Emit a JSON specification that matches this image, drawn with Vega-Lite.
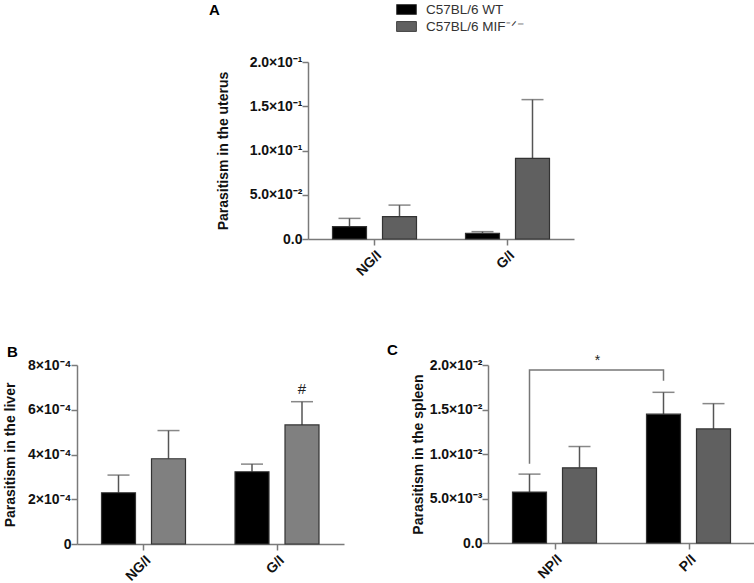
{
  "$schema": "https://vega.github.io/schema/vega-lite/v6.json",
  "padding": {"left": 3, "top": 0, "right": 2, "bottom": 2},
  "config": {
    "view": {"stroke": null},
    "font": "Liberation Sans",
    "axis": {"domainColor": "#7a7a7a", "tickColor": "#7a7a7a", "domainWidth": 1.5, "tickWidth": 1.5, "tickSize": 6, "grid": false, "labelColor": "#111", "titleColor": "#111", "labelFont": "Liberation Sans", "titleFont": "Liberation Sans", "labelFontWeight": "bold", "labelFontSize": 14, "titleFontSize": 14, "titleFontWeight": "bold"},
    "axisY": {"labelPadding": 0, "titlePadding": 12},
    "axisX": {"labelPadding": 3},
    "legend": {"labelFontSize": 13.5, "labelColor": "#333", "labelFont": "Liberation Sans", "rowPadding": 0, "labelOffset": 10, "symbolSize": 324, "symbolType": "M-1.1,-0.55H1.1V0.55H-1.1Z", "symbolStrokeColor": "#444", "symbolStrokeWidth": 1},
    "title": {"font": "Liberation Sans", "fontSize": 15, "fontWeight": "bold", "color": "#000", "anchor": "start", "frame": "group"}
  },
  "datasets": {
    "uterus": [
      {"group": "NG/I", "strain": "C57BL/6 WT", "mean": 0.0139, "upper": 0.0233},
      {"group": "NG/I", "strain": "C57BL/6 MIF⁻ᐟ⁻", "mean": 0.0252, "upper": 0.0383},
      {"group": "G/I", "strain": "C57BL/6 WT", "mean": 0.0064, "upper": 0.0083},
      {"group": "G/I", "strain": "C57BL/6 MIF⁻ᐟ⁻", "mean": 0.091, "upper": 0.1575}
    ],
    "liver": [
      {"group": "NG/I", "strain": "C57BL/6 WT", "mean": 0.000229, "upper": 0.000308},
      {"group": "NG/I", "strain": "C57BL/6 MIF⁻ᐟ⁻", "mean": 0.000381, "upper": 0.000507},
      {"group": "G/I", "strain": "C57BL/6 WT", "mean": 0.000323, "upper": 0.000357},
      {"group": "G/I", "strain": "C57BL/6 MIF⁻ᐟ⁻", "mean": 0.000532, "upper": 0.000636}
    ],
    "liverNote": [
      {"group": "G/I", "strain": "C57BL/6 MIF⁻ᐟ⁻", "y": 0.000691, "label": "#"}
    ],
    "spleen": [
      {"group": "NP/I", "strain": "C57BL/6 WT", "mean": 0.00572, "upper": 0.00774},
      {"group": "NP/I", "strain": "C57BL/6 MIF⁻ᐟ⁻", "mean": 0.00845, "upper": 0.01084},
      {"group": "P/I", "strain": "C57BL/6 WT", "mean": 0.01447, "upper": 0.01693},
      {"group": "P/I", "strain": "C57BL/6 MIF⁻ᐟ⁻", "mean": 0.01282, "upper": 0.01566}
    ],
    "bracket": [
      {"group": "NP/I", "strain": "C57BL/6 WT", "y": 0.0089, "ord": 1},
      {"group": "NP/I", "strain": "C57BL/6 WT", "y": 0.01944, "ord": 2},
      {"group": "P/I", "strain": "C57BL/6 WT", "y": 0.01944, "ord": 3},
      {"group": "P/I", "strain": "C57BL/6 WT", "y": 0.01824, "ord": 4}
    ],
    "spleenNote": [
      {"group": "NP/I", "strain": "C57BL/6 MIF⁻ᐟ⁻", "y": 0.02045, "label": "*"}
    ]
  },
  "resolve": {"scale": {"color": "independent"}},
  "spacing": 63,
  "vconcat": [
    {
      "spacing": 0,
      "hconcat": [
        {"width": 132, "height": 10, "data": {"values": [{}]}, "mark": {"type": "point", "opacity": 0}},
        {
          "width": 266,
          "height": 177,
          "title": {"text": "A", "dx": -99, "offset": 37},
          "data": {"name": "uterus"},
          "encoding": {
            "x": {"field": "group", "type": "nominal", "sort": ["NG/I", "G/I"], "scale": {"paddingInner": 0, "paddingOuter": 0},
                  "axis": {"title": null, "labelAngle": -45}},
            "xOffset": {"field": "strain", "type": "nominal", "sort": ["C57BL/6 WT", "C57BL/6 MIF⁻ᐟ⁻"], "scale": {"paddingInner": 0.32, "paddingOuter": 0.49}}
          },
          "layer": [
            {"mark": {"type": "rule", "color": "#555", "strokeWidth": 1.5},
             "encoding": {"y": {"field": "mean", "type": "quantitative"}, "y2": {"field": "upper"}}},
            {"mark": {"type": "tick", "color": "#555", "thickness": 1.5, "size": 22},
             "encoding": {"y": {"field": "upper", "type": "quantitative"}}},
            {"mark": {"type": "bar", "stroke": "#333", "strokeWidth": 1.2},
             "encoding": {
               "y": {"field": "mean", "type": "quantitative", "scale": {"domain": [0, 0.2]},
                     "axis": {"title": "Parasitism in the uterus", "titlePadding": 19, "values": [0, 0.05, 0.1, 0.15, 0.2],
                              "labelExpr": "datum.value < 0.01 ? '0.0' : datum.value < 0.07 ? '5.0×10⁻²' : datum.value < 0.12 ? '1.0×10⁻¹' : datum.value < 0.17 ? '1.5×10⁻¹' : '2.0×10⁻¹'"}},
               "color": {"field": "strain", "type": "nominal", "sort": ["C57BL/6 WT", "C57BL/6 MIF⁻ᐟ⁻"],
                         "scale": {"domain": ["C57BL/6 WT", "C57BL/6 MIF⁻ᐟ⁻"], "range": ["#000000", "#606060"]},
                         "legend": {"orient": "none", "legendX": 320, "legendY": -62, "title": null}}
             }}
          ]
        }
      ]
    },
    {
      "spacing": 43,
      "resolve": {"scale": {"color": "independent"}},
      "hconcat": [
        {
          "width": 267,
          "height": 179,
          "title": {"text": "B", "dx": -70, "offset": 0, "dy": 2},
          "encoding": {
            "x": {"field": "group", "type": "nominal", "sort": ["NG/I", "G/I"], "scale": {"paddingInner": 0, "paddingOuter": 0},
                  "axis": {"title": null, "labelAngle": -45}},
            "xOffset": {"field": "strain", "type": "nominal", "sort": ["C57BL/6 WT", "C57BL/6 MIF⁻ᐟ⁻"], "scale": {"paddingInner": 0.196, "paddingOuter": 0.55}}
          },
          "layer": [
            {"data": {"name": "liver"}, "mark": {"type": "rule", "color": "#555", "strokeWidth": 1.5},
             "encoding": {"y": {"field": "mean", "type": "quantitative"}, "y2": {"field": "upper"}}},
            {"data": {"name": "liver"}, "mark": {"type": "tick", "color": "#555", "thickness": 1.5, "size": 22},
             "encoding": {"y": {"field": "upper", "type": "quantitative"}}},
            {"data": {"name": "liver"}, "mark": {"type": "bar", "stroke": "#333", "strokeWidth": 1.2},
             "encoding": {
               "y": {"field": "mean", "type": "quantitative", "scale": {"domain": [0, 0.0008]},
                     "axis": {"title": "Parasitism in the liver", "titlePadding": 10, "values": [0, 0.0002, 0.0004, 0.0006, 0.0008],
                              "labelExpr": "datum.value < 0.00001 ? '0' : datum.value < 0.0003 ? '2×10⁻⁴' : datum.value < 0.0005 ? '4×10⁻⁴' : datum.value < 0.0007 ? '6×10⁻⁴' : '8×10⁻⁴'"}},
               "color": {"field": "strain", "type": "nominal", "sort": ["C57BL/6 WT", "C57BL/6 MIF⁻ᐟ⁻"],
                         "scale": {"domain": ["C57BL/6 WT", "C57BL/6 MIF⁻ᐟ⁻"], "range": ["#000000", "#808080"]}, "legend": null}
             }},
            {"data": {"name": "liverNote"}, "mark": {"type": "text", "fontSize": 15, "fontWeight": "normal", "color": "#222", "baseline": "middle"},
             "encoding": {"y": {"field": "y", "type": "quantitative"}, "text": {"field": "label"}}}
          ]
        },
        {
          "width": 268,
          "height": 178,
          "title": {"text": "C", "dx": -101, "offset": 0, "dy": 4},
          "encoding": {
            "x": {"field": "group", "type": "nominal", "sort": ["NP/I", "P/I"], "scale": {"paddingInner": 0, "paddingOuter": 0},
                  "axis": {"title": null, "labelAngle": -45}},
            "xOffset": {"field": "strain", "type": "nominal", "sort": ["C57BL/6 WT", "C57BL/6 MIF⁻ᐟ⁻"], "scale": {"paddingInner": 0.196, "paddingOuter": 0.55}}
          },
          "layer": [
            {"data": {"name": "spleen"}, "mark": {"type": "rule", "color": "#555", "strokeWidth": 1.5},
             "encoding": {"y": {"field": "mean", "type": "quantitative"}, "y2": {"field": "upper"}}},
            {"data": {"name": "spleen"}, "mark": {"type": "tick", "color": "#555", "thickness": 1.5, "size": 22},
             "encoding": {"y": {"field": "upper", "type": "quantitative"}}},
            {"data": {"name": "spleen"}, "mark": {"type": "bar", "stroke": "#333", "strokeWidth": 1.2},
             "encoding": {
               "y": {"field": "mean", "type": "quantitative", "scale": {"domain": [0, 0.02]},
                     "axis": {"title": "Parasitism in the spleen", "titlePadding": 4, "values": [0, 0.005, 0.01, 0.015, 0.02],
                              "labelExpr": "datum.value < 0.0001 ? '0.0' : datum.value < 0.007 ? '5.0×10⁻³' : datum.value < 0.012 ? '1.0×10⁻²' : datum.value < 0.017 ? '1.5×10⁻²' : '2.0×10⁻²'"}},
               "color": {"field": "strain", "type": "nominal", "sort": ["C57BL/6 WT", "C57BL/6 MIF⁻ᐟ⁻"],
                         "scale": {"domain": ["C57BL/6 WT", "C57BL/6 MIF⁻ᐟ⁻"], "range": ["#000000", "#606060"]}, "legend": null}
             }},
            {"data": {"name": "bracket"}, "mark": {"type": "line", "color": "#777", "strokeWidth": 1.5},
             "encoding": {"y": {"field": "y", "type": "quantitative"}, "order": {"field": "ord", "type": "quantitative"}}},
            {"data": {"name": "spleenNote"}, "mark": {"type": "text", "fontSize": 14, "color": "#222", "baseline": "middle", "dx": 18},
             "encoding": {"y": {"field": "y", "type": "quantitative"}, "text": {"field": "label"}}}
          ]
        }
      ]
    }
  ]
}
